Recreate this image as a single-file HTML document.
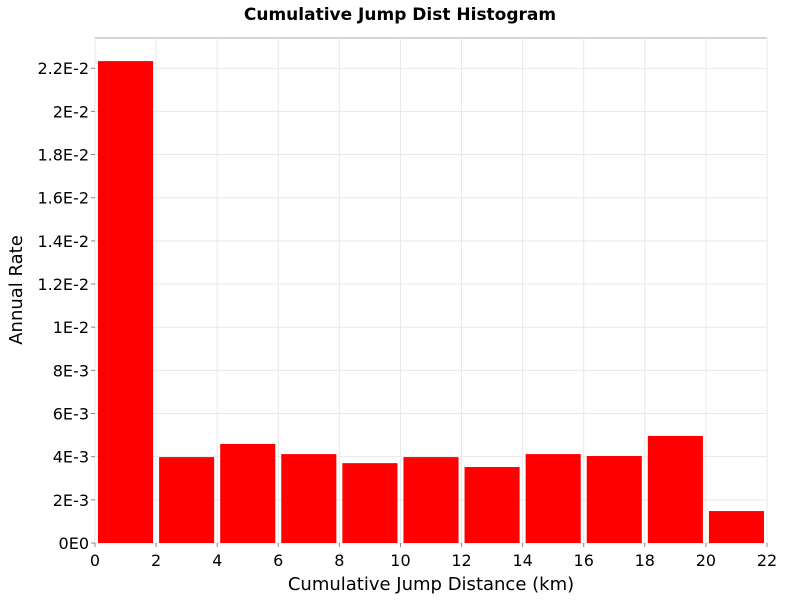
<!DOCTYPE html>
<html><head><meta charset="utf-8"><style>
body{margin:0;background:#fff;font-family:"Liberation Sans","DejaVu Sans",sans-serif}
svg text{font-family:"DejaVu Sans","Liberation Sans",sans-serif}
</style></head><body>
<svg id="chart" width="800" height="600">
<text x="400" y="20" text-anchor="middle" font-size="17" font-weight="bold">Cumulative Jump Dist Histogram</text>
<rect x="95" y="38" width="672" height="505" fill="#fff" stroke="#aaa"/>
<g id="grid"></g><g id="bars"></g><g id="axes"></g>
<text x="431" y="590" text-anchor="middle" font-size="18">Cumulative Jump Distance (km)</text>
<text transform="translate(22,290) rotate(-90)" text-anchor="middle" font-size="18">Annual Rate</text>
</svg>
<script>
const binStarts=[0,2,4,6,8,10,12,14,16,18,20];
const binWidth=2;
const rates=[0.02233,0.00398,0.00459,0.00412,0.0037,0.00398,0.00352,0.00412,0.00403,0.00496,0.00148];
const xTicks=[0,2,4,6,8,10,12,14,16,18,20,22];
const yTicks=[0,0.002,0.004,0.006,0.008,0.01,0.012,0.014,0.016,0.018,0.02,0.022];
const yTickLabels=["0E0","2E-3","4E-3","6E-3","8E-3","1E-2","1.2E-2","1.4E-2","1.6E-2","1.8E-2","2E-2","2.2E-2"];
const X0=95,X1=767,Y0=543,Y1=38;
const xs=v=>X0+(v/22)*(X1-X0);
const ys=v=>Y0-(v/0.0234)*(Y0-Y1);
const NS="http://www.w3.org/2000/svg";
function mk(t,a,p){const e=document.createElementNS(NS,t);for(const k in a)e.setAttribute(k,a[k]);p.appendChild(e);return e;}
const grid=document.getElementById('grid'),bars=document.getElementById('bars'),axes=document.getElementById('axes');
xTicks.forEach(t=>{
 const g=mk('line',{x1:xs(t),x2:xs(t),y1:Y1,y2:Y0,stroke:'#e8e8e8'},grid);
 
 
 const tk=mk('line',{x1:xs(t),x2:xs(t),y1:Y0,y2:Y0+4,stroke:'#888'},axes);
 
 
 const l=mk('text',{x:xs(t),y:Y0+23,'text-anchor':'middle','font-size':16},axes);
 l.textContent=t;
 
 
});
yTicks.forEach((t,i)=>{
 const g=mk('line',{x1:X0,x2:X1,y1:ys(t),y2:ys(t),stroke:'#e8e8e8'},grid);
 
 
 const tk=mk('line',{x1:X0-4,x2:X0,y1:ys(t),y2:ys(t),stroke:'#888'},axes);
 
 
 const l=mk('text',{x:X0-6,y:ys(t)+6,'text-anchor':'end','font-size':16},axes);
 l.textContent=yTickLabels[i];
 
 
});
binStarts.forEach((s,i)=>{
 const x=xs(s)+3,w=xs(s+binWidth)-xs(s)-6;
 const r=mk('rect',{x:x,y:ys(rates[i]),width:w,height:Y0-ys(rates[i]),fill:'#ff0000'},bars);
 
 
});
</script>
</body></html>
